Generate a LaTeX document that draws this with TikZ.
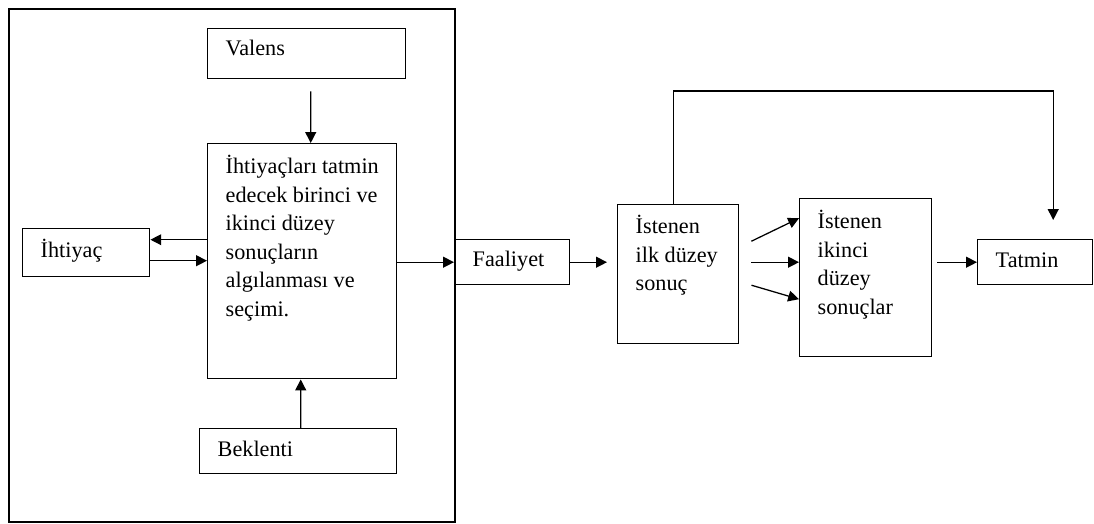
\documentclass[tikz,border=0pt]{standalone}
\usepackage{fontspec}
\setmainfont{Liberation Serif}
\usepackage{tikz}
\usetikzlibrary{arrows.meta, calc}
\tikzset{blk/.style={draw=black, line width=1pt, anchor=north west, inner xsep=.45cm, inner ysep=0pt},
    arr/.style={line width=.9pt, -{Triangle[length=.27cm, width=.27cm]}}}
\newcommand{\blktext}[4]{\parbox[t][#2][t]{#1}{\vspace*{#3}\strut#4}}

\begin{document}
\begin{tikzpicture}[x=.025cm, y=-.025cm, font=\fontsize{15.8}{20.3}\selectfont]
                 \useasboundingbox (0,0) rectangle (1094,524);
                 \draw[line width=1pt] (9,9) rectangle (455,522);

                 \node[blk] (valens) at (207,28) {\blktext{4.05cm}{1.25cm}{.175cm}{Valens}};
                 \node[blk] (central) at (207,143) {\blktext{3.825cm}{5.875cm}{.25cm}{İhtiyaçları tatmin\\ edecek birinci ve\\ ikinci düzey\\ sonuçların\\ algılanması ve\\ seçimi.}};
                 \node[blk] (need) at (22,228) {\blktext{2.275cm}{1.2cm}{.22cm}{İhtiyaç}};
                 \node[blk] (beklenti) at (199,428) {\blktext{4.025cm}{1.125cm}{.2cm}{Beklenti}};

                 \node[blk] (faaliyet) at (454,239) {\blktext{1.975cm}{1.125cm}{.18cm}{Faaliyet}};
                 \node[blk] (first) at (617,204) {\blktext{2.125cm}{3.475cm}{.22cm}{İstenen\\ ilk düzey\\ sonuç}};
                 \node[blk] (second) at (799,198) {\blktext{2.4cm}{3.95cm}{.25cm}{İstenen\\ ikinci\\ düzey\\ sonuçlar}};
                 \node[blk] (tatmin) at (977,239) {\blktext{1.975cm}{1.125cm}{.2cm}{Tatmin}};

                 \draw[arr] ($(valens.south)+(4,12)$) -- ($(central.north)+(8.5,0)$);
                 \draw[arr] ($(beklenti.north)+(2.5,0)$) -- ($(central.south)+(-1.5,0)$);
                 \draw[arr] ($(central.west |- need.east)+(0,-13)$) -- ($(need.east)+(0,-13)$);
                 \draw[arr] ($(need.east)+(0,8)$) -- ($(central.west |- need.east)+(0,8)$);
                 \draw[arr] (central.east |- faaliyet.west) -- (faaliyet.west);
                 \draw[arr] (faaliyet.east) -- ($(faaliyet.east -| first.west)+(-10,0)$);

                 \coordinate (fork) at ($(first.east |- faaliyet.east)+(12,0)$);
                 \draw[arr] ($(fork)+(0,-21)$) -- ($(second.west |- fork)+(0,-44)$);
                 \draw[arr] (fork) -- (second.west |- fork);
                 \draw[arr] ($(fork)+(0,23)$) -- ($(second.west |- fork)+(0,37)$);
                 \draw[arr] ($(second.east |- tatmin.west)+(5,0)$) -- (tatmin.west);

                 \draw[arr] ($(first.north)+(-5,0)$) -- ++(0,-113) -| ($(tatmin.north)+(18,-19)$);
             \end{tikzpicture}
\end{document}
